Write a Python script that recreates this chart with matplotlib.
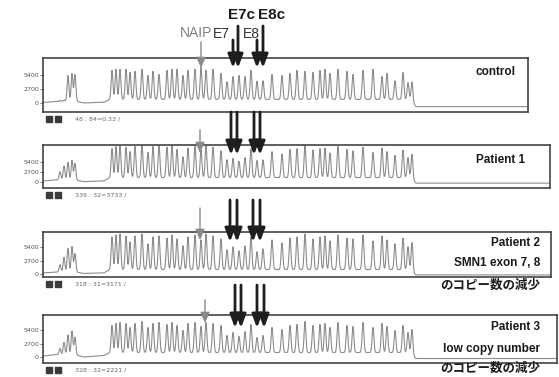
import numpy as np
import matplotlib
matplotlib.use("Agg")
import matplotlib.pyplot as plt
from matplotlib.patches import Rectangle

# peak positions (common to all four runs) and peak heights
peak_pos = [60, 64, 68, 72, 75,
            112, 116, 120, 126, 130, 135, 142, 148, 153, 159, 167, 172, 177, 183, 188,
            195, 201, 206, 213, 221, 227, 233, 239, 245, 251, 257, 263, 272, 282, 290,
            297, 305, 313, 320, 325, 330, 338, 347, 353, 363, 373, 382, 387, 395, 403,
            408, 412]

h_control = [200, 300, 5000, 5400, 5200,
             5600, 5800, 5800, 5800, 5200, 5400, 5800, 4600, 5400, 4800,
             5600, 5800, 5800, 4600, 5600, 5800, 6200, 5600, 5800, 5000,
             3400, 4400, 4600, 4400, 5600, 3500, 3600, 4800, 4600, 5000,
             5600, 5400, 5200, 5600, 5800, 5000, 5800, 5400, 4800, 5600,
             5800, 4400, 5000, 3600, 5200, 3200, 3800]
h_patient1 = [2200, 3800, 4800, 5400, 4600,
              7800, 8400, 8600, 8200, 7000, 8400, 8800, 6800, 8400, 8600,
              8200, 8800, 7600, 5600, 8000, 8400, 7400, 8600, 8200, 7200,
              4800, 5200, 4400, 5400, 7800, 4600, 4800, 7000, 6400, 7600,
              7800, 8600, 7400, 7800, 8000, 6600, 8400, 7600, 7200, 8200,
              6800, 8000, 7000, 6000, 7400, 5400, 6800]
h_patient2 = [1500, 3000, 4800, 5200, 3800,
              6600, 7000, 7200, 6800, 5600, 6800, 7200, 5200, 6600, 6800,
              6400, 7000, 6200, 4800, 6600, 7000, 6000, 7200, 6800, 6200,
              4000, 4600, 3800, 4800, 6600, 3600, 4200, 6000, 5400, 6400,
              6600, 7200, 6200, 6600, 6800, 5800, 7000, 6400, 6200, 7000,
              5800, 6800, 6000, 5200, 6400, 4600, 5800]
h_patient3 = [1200, 2500, 4000, 4800, 3600,
              5400, 5800, 6000, 5800, 5000, 5800, 6200, 5000, 5800, 6000,
              5600, 6000, 5400, 4400, 5800, 6000, 5200, 6000, 5800, 5400,
              3400, 4000, 3200, 4200, 5600, 3000, 3400, 5000, 4600, 5400,
              5600, 6200, 5400, 5600, 5800, 5000, 6000, 5400, 5200, 6000,
              5000, 5800, 5200, 4400, 5400, 4000, 5000]

# baseline level between the peaks
base_x = [43, 58, 78, 84, 104, 110, 410, 416, 560]
base_control = [100, 300, 250, 0, 150, 700, 700, -700, -700]
base_p1 = [300, 600, 400, 100, 300, 1200, 1200, -300, -300]
base_p2 = [200, 400, 300, 100, 200, 900, 900, -200, -200]
base_p3 = [200, 500, 300, 0, 300, 900, 900, -300, -300]

names = ["control", "Patient 1", "Patient 2", "Patient 3"]
footers = ["48 : 84=0.33 /", "339 : 32=3733 /", "318 : 31=3171 /", "328 : 32=2221 /"]

W, H = 559, 377
fig = plt.figure(figsize=(W / 100, H / 100), dpi=100)

# panel boxes in pixels: x0, x1, y0, y1, ylim
panels = [
    (43, 528, 58, 112, (-1735, 8680), h_control, base_control),
    (43, 550, 145, 188, (-1620, 10000), h_patient1, base_p1),
    (43, 551, 232, 277, (-620, 8500), h_patient2, base_p2),
    (43, 557, 315, 363, (-1200, 8400), h_patient3, base_p3),
]

for x0, x1, y0, y1, ylim, heights, base in panels:
    ax = fig.add_axes([x0 / W, 1 - y1 / H, (x1 - x0) / W, (y1 - y0) / H])
    xs = np.arange(x0, x1, 0.2)
    ys = np.interp(xs, base_x, base)
    for p, h in zip(peak_pos, heights):
        ys = ys + h * np.exp(-0.5 * ((xs - p) / 0.9) ** 2)
    ax.plot(xs, ys, color="#8c8c8c", lw=0.8)
    ax.set_xlim(x0, x1)
    ax.set_ylim(*ylim)
    ax.set_xticks([])
    ax.set_yticks([0, 2700, 5400])
    ax.set_yticklabels(["0", "2700", "5400"])
    ax.tick_params(axis="y", length=2, width=0.6, pad=1, labelsize=4.5,
                   colors="#555555")
    for s in ax.spines.values():
        s.set_color("#444444")
        s.set_linewidth(1.2)

ov = fig.add_axes([0, 0, 1, 1], zorder=10)
ov.set_xlim(0, W)
ov.set_ylim(H, 0)
ov.axis("off")
ov.patch.set_alpha(0)

# footers under each box
for (x0, x1, y0, y1, *_), ft in zip(panels, footers):
    fy = y1 + 7
    ov.add_patch(Rectangle((46, fy - 3), 6, 6, color="#3a3a3a"))
    ov.add_patch(Rectangle((55, fy - 3), 6, 6, color="#3a3a3a"))
    ov.text(75, fy, ft, fontsize=4.5, color="#666666", va="center")

# probe labels at top
ov.text(228, 15, "E7c", fontsize=11, weight="bold", family="Liberation Sans",
        color="#1a1a1a", va="center")
ov.text(258, 15, "E8c", fontsize=11, weight="bold", family="Liberation Sans",
        color="#1a1a1a", va="center")
ov.text(180, 33, "NAIP", fontsize=10, family="Liberation Sans", color="#808080",
        va="center")
ov.text(213, 34, "E7", fontsize=10, family="Liberation Sans", color="#333333",
        va="center")
ov.text(243, 34, "E8", fontsize=10, family="Liberation Sans", color="#333333",
        va="center")


def arrow(x, ya, yb, dark=True):
    if dark:
        props = dict(arrowstyle="-|>,head_width=0.3,head_length=0.8", lw=2.0,
                     color="#1e1e1e", mutation_scale=10, shrinkA=0, shrinkB=0)
    else:
        props = dict(arrowstyle="-|>,head_width=0.35,head_length=0.8", lw=1.0,
                     color="#8a8a8a", mutation_scale=8, shrinkA=0, shrinkB=0)
    ov.annotate("", xy=(x, yb), xytext=(x, ya), arrowprops=props)


# arrows over each run
arrow(201, 42, 68, dark=False)
arrow(233, 40, 68)
arrow(238, 26, 68)
arrow(257, 40, 68)
arrow(263, 26, 68)

arrow(200, 130, 153, dark=False)
arrow(231, 112, 155)
arrow(237, 112, 155)
arrow(254, 112, 155)
arrow(260, 112, 155)

arrow(200, 208, 240, dark=False)
arrow(230, 200, 242)
arrow(237, 200, 242)
arrow(253, 200, 242)
arrow(260, 200, 242)

arrow(205, 300, 323, dark=False)
arrow(235, 285, 328)
arrow(241, 285, 328)
arrow(257, 285, 328)
arrow(264, 285, 328)

# sample names and notes
lab = dict(weight="bold", family="Liberation Sans", color="#1a1a1a", va="center",
           ha="right")
cjk = dict(weight="bold", family=["Noto Sans CJK JP", "DejaVu Sans"],
           color="#1a1a1a", va="center", ha="right")
ov.text(515, 72, names[0], fontsize=8.5, **lab)
ov.text(525, 160, names[1], fontsize=8.5, **lab)
ov.text(540, 243, names[2], fontsize=8.5, **lab)
ov.text(540, 263, "SMN1 exon 7, 8", fontsize=8.5, **lab)
ov.text(540, 285, "のコピー数の減少", fontsize=9, **cjk)
ov.text(540, 327, names[3], fontsize=8.5, **lab)
ov.text(540, 349, "low copy number", fontsize=8.5, **lab)
ov.text(540, 368, "のコピー数の減少", fontsize=9, **cjk)

fig.savefig("out.png", dpi=100)
